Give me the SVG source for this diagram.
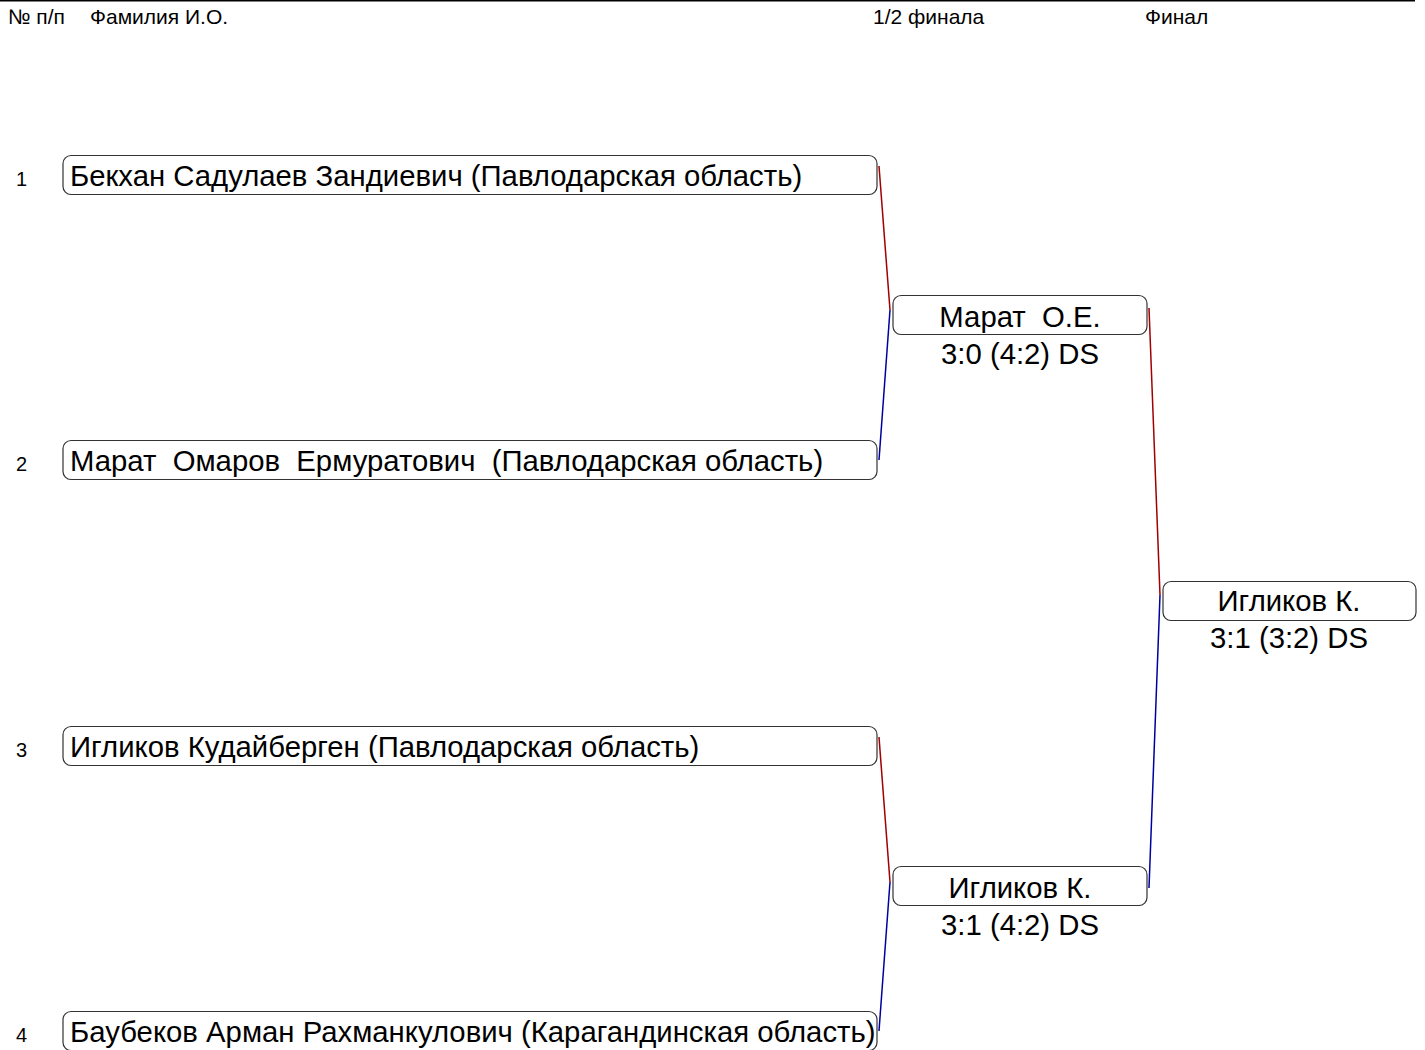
<svg xmlns="http://www.w3.org/2000/svg" width="1425" height="1050" viewBox="0 0 1425 1050">
<style>
.h{font-family:"Liberation Sans",Arial,sans-serif;font-size:21px;fill:#000}
.n{font-family:"Liberation Sans",Arial,sans-serif;font-size:20px;fill:#000}
.t{font-family:"Liberation Sans",Arial,sans-serif;font-size:29.3px;fill:#000}
.c{text-anchor:middle}
.b{fill:#fff;stroke:#333;stroke-width:1.2}
.r{stroke:#a00000;stroke-width:1.5;fill:none}
.u{stroke:#0000a0;stroke-width:1.5;fill:none}
</style>
<rect width="1425" height="1050" fill="#fff"/>
<line x1="0" y1="0.8" x2="1415" y2="0.8" stroke="#000" stroke-width="1.5"/>
<g id="header">
<text class="h" x="8" y="24">№ п/п</text>
<text class="h" x="90" y="24">Фамилия И.О.</text>
<text class="h" x="873" y="24">1/2 финала</text>
<text class="h" x="1145" y="24">Финал</text>
</g>
<g id="connectors">
<line class="r" x1="879" y1="166" x2="890" y2="310"/>
<line class="u" x1="890" y1="310" x2="879" y2="460"/>
<line class="r" x1="879" y1="737" x2="890" y2="882"/>
<line class="u" x1="890" y1="882" x2="879" y2="1031"/>
<line class="r" x1="1149" y1="308" x2="1160" y2="595"/>
<line class="u" x1="1160" y1="595" x2="1149" y2="888"/>
</g>
<g id="p1">
<text class="n" x="16" y="186">1</text>
<rect class="b" x="63" y="155.5" width="814" height="39" rx="8"/>
<text class="t" x="70" y="186">Бекхан Садулаев Зандиевич (Павлодарская область)</text>
</g>
<g id="p2">
<text class="n" x="16" y="471">2</text>
<rect class="b" x="63" y="440.5" width="814" height="39" rx="8"/>
<text class="t" x="70" y="471" xml:space="preserve">Марат  Омаров  Ермуратович  (Павлодарская область)</text>
</g>
<g id="p3">
<text class="n" x="16" y="757">3</text>
<rect class="b" x="63" y="726.5" width="814" height="39" rx="8"/>
<text class="t" x="70" y="757">Игликов Кудайберген (Павлодарская область)</text>
</g>
<g id="p4">
<text class="n" x="16" y="1042">4</text>
<rect class="b" x="63" y="1011.5" width="814" height="39" rx="8"/>
<text class="t" x="70" y="1042">Баубеков Арман Рахманкулович (Карагандинская область)</text>
</g>
<g id="sf1">
<rect class="b" x="893" y="295.5" width="254" height="39" rx="8"/>
<text class="t c" x="1020" y="327" xml:space="preserve">Марат  О.Е.</text>
<text class="t c" x="1020" y="364">3:0 (4:2) DS</text>
</g>
<g id="sf2">
<rect class="b" x="893" y="866.5" width="254" height="39" rx="8"/>
<text class="t c" x="1020" y="898">Игликов К.</text>
<text class="t c" x="1020" y="935">3:1 (4:2) DS</text>
</g>
<g id="final">
<rect class="b" x="1163" y="581.5" width="253" height="39" rx="8"/>
<text class="t c" x="1289" y="611">Игликов К.</text>
<text class="t c" x="1289" y="648">3:1 (3:2) DS</text>
</g>
</svg>
